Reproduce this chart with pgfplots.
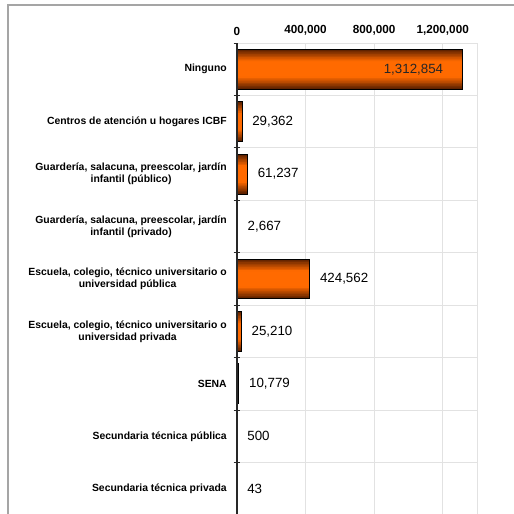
\documentclass[border=0pt]{standalone}
\usepackage{pgfplots}
\usepackage{pgfplotstable}
\pgfplotsset{compat=1.18}
\usepackage{fontspec}
\setmainfont{Liberation Sans}
\setsansfont{Liberation Sans}
\definecolor{bardark}{RGB}{95,34,0}
\definecolor{barmid}{RGB}{255,106,0}
\definecolor{gridgray}{RGB}{226,226,226}
\definecolor{framegray}{RGB}{165,165,165}
\definecolor{axisdark}{RGB}{40,40,40}

% value, row
\pgfplotstableread{
v        r
1312854  0
29362    1
61237    2
2667     3
424562   4
25210    5
500      7
43       8
}\orangebars
\pgfplotstableread{
v        r
10779    6
}\senabar

\begin{document}
\begin{tikzpicture}
\useasboundingbox (0,0) rectangle (385.5pt,385.5pt);
% outer frame (left and top edges visible)
\draw[framegray, line width=1.1pt] (6pt,-2pt) -- (6pt,381.75pt) -- (390pt,381.75pt);

\begin{axis}[
  at={(177.75pt,353.25pt)}, anchor=north west,
  scale only axis,
  width=180pt, height=354pt,
  xbar, bar shift=0pt,
  y dir=reverse,
  ymin=-0.5, ymax=8.5,
  xmin=0, xmax=1400000,
  xtick={0,400000,800000,1200000},
  scaled x ticks=false,
  xticklabel pos=right,
  xtick pos=right,
  xticklabel style={font=\fontsize{8.8}{10}\selectfont\bfseries, yshift=2pt,
    /pgf/number format/.cd, fixed, precision=0, 1000 sep={,}, assume math mode=true},
  ytick={0,...,8},
  ytick pos=left,
  yticklabels={
    {Ninguno},
    {Centros de atención u hogares ICBF},
    {Guardería, salacuna, preescolar, jardín\\infantil (público)},
    {Guardería, salacuna, preescolar, jardín\\infantil (privado)},
    {Escuela, colegio, técnico universitario o\\universidad pública},
    {Escuela, colegio, técnico universitario o\\universidad privada},
    {SENA},
    {Secundaria técnica pública},
    {Secundaria técnica privada}},
  yticklabel style={font=\fontsize{7.8}{9}\selectfont\bfseries, align=center, inner sep=0pt, xshift=-7.5pt},
  minor ytick={-0.5,0.5,...,8.5},
  ymajorgrids=false, yminorgrids=true, xmajorgrids=true,
  grid style={gridgray, line width=0.75pt},
  minor grid style={gridgray, line width=0.75pt},
  major tick length=0pt,
  minor tick length=5pt,
  tick align=center,
  minor y tick style={axisdark, line width=0.6pt},
  axis line style={gridgray, line width=0.75pt},
  clip=false,
]
% shaded orange bars: stacked layers from dark edge to bright centre
\pgfplotsinvokeforeach{0,...,9}{
  \pgfmathsetmacro\bw{0.76-0.06*#1}
  \pgfmathsetmacro\mix{min(100,14*#1)}
  \edef\temp{\noexpand\addplot[draw=none, fill=barmid!\mix!bardark, bar width=\bw]
    table[x=v, y=r] {\noexpand\orangebars};}
  \temp
}
% outlines
\addplot[draw=black, fill=none, line width=0.7pt, bar width=0.76] table[x=v, y=r] {\orangebars};
% SENA bar in black
\addplot[draw=black, fill=black, line width=0.7pt, bar width=0.76] table[x=v, y=r] {\senabar};

% value labels
\addplot[draw=none, fill=none, bar width=0.76, point meta=x,
  nodes near coords={\pgfmathprintnumber[fixed, precision=0, 1000 sep={,}, assume math mode=true]{\pgfplotspointmeta}},
  every node near coord/.append style={anchor=west, inner sep=0pt, xshift=7.5pt, font=\fontsize{10}{12}\selectfont, text=black}]
  table[x=v, y=r] {
v        r
29362    1
61237    2
2667     3
424562   4
25210    5
10779    6
500      7
43       8
};
\addplot[draw=none, fill=none, bar width=0.76, point meta=x,
  nodes near coords={\pgfmathprintnumber[fixed, precision=0, 1000 sep={,}, assume math mode=true]{\pgfplotspointmeta}},
  every node near coord/.append style={anchor=east, inner sep=0pt, xshift=-14pt, font=\fontsize{10}{12}\selectfont, text=black!85}]
  table[x=v, y=r] {
v        r
1312854  0
};
\draw[axisdark, line width=0.8pt] (rel axis cs:0,0) -- (rel axis cs:0,1);
\end{axis}
\end{tikzpicture}
\end{document}
